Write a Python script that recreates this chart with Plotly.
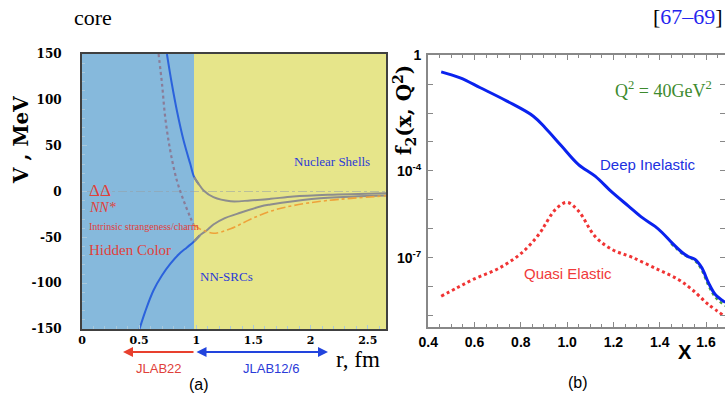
import plotly.graph_objects as go

W, H = 725, 393
def px(x): return x / W
def py(y): return 1 - y / H

SERIF = "Liberation Serif"
SANS = "Liberation Sans"

# ---------------- Panel (a) data : V(r) in MeV ----------------
upper_blue_r = [0.743, 0.786, 0.83, 0.889, 0.947, 0.982, 1.02]
upper_blue_v = [150, 117.5, 88.4, 55.6, 30.2, 15.6, 8.4]
upper_gray_r = [0.965, 0.982, 1.02, 1.064, 1.15, 1.30, 1.47, 1.65, 1.85, 2.15, 2.66]
upper_gray_v = [22.5, 15.6, 8.4, 1.1, -6.2, -10.6, -9.8, -8.0, -5.5, -3.6, -1.8]

lower_blue_r = [0.503, 0.553, 0.625, 0.699, 0.772, 0.845, 0.918, 0.98, 1.03]
lower_blue_v = [-150, -131, -108, -91.6, -79, -68.7, -61, -54.5, -48]
lower_gray_r = [0.98, 1.03, 1.09, 1.15, 1.25, 1.357, 1.56, 1.65, 1.85, 2.15, 2.66]
lower_gray_v = [-54.5, -48, -42.5, -36, -29, -24.4, -16.4, -14.2, -10.6, -6.9, -4.4]

dotted_r = [0.67, 0.70, 0.728, 0.772, 0.83, 0.889, 0.947, 0.976]
dotted_v = [150, 117.5, 81, 44.7, 12, -9.8, -28, -36]

orange_r = [0.976, 1.02, 1.064, 1.15, 1.30, 1.47, 1.65, 1.85, 2.15, 2.66]
orange_v = [-36, -40, -42.5, -45.5, -40.7, -30.5, -21.5, -15.3, -9.8, -4.7]

a_xticks = [0, 0.5, 1, 1.5, 2, 2.5]
a_xticktext = ["0", "0.5", "1", "1.5", "2", "2.5"]
a_yticks = [150, 100, 50, 0, -50, -100, -150]
a_yticktext = ["150", "100", "50", "0", "-50", "-100", "-150"]
core_edge_r = 0.98

# ---------------- Panel (b) data : f2(x, Q^2) ----------------
dis_x = [0.456, 0.538, 0.625, 0.74, 0.854, 0.905, 0.975, 1.048, 1.121, 1.195, 1.265,
         1.323, 1.38, 1.41, 1.453, 1.497, 1.523, 1.553, 1.582, 1.611, 1.64, 1.683]
dis_f2 = [0.263, 0.162, 0.0741, 0.0257, 7.76e-3, 3.09e-3, 7.41e-4, 1.70e-4, 6.61e-5, 1.82e-5,
          6.17e-6, 2.51e-6, 1.23e-6, 7.59e-7, 3.31e-7, 1.55e-7, 1.12e-7, 8.91e-8, 4.57e-8,
          1.38e-8, 5.50e-9, 2.95e-9]

qe_x = [0.456, 0.524, 0.594, 0.711, 0.81, 0.884, 0.905, 0.949, 0.999, 1.049, 1.121, 1.195,
        1.281, 1.393, 1.48, 1.54, 1.61, 1.683]
qe_f2 = [4.79e-9, 9.33e-9, 1.82e-8, 4.68e-8, 1.66e-7, 7.59e-7, 1.41e-6, 4.68e-6, 8.32e-6,
         4.17e-6, 5.50e-7, 1.95e-7, 1.05e-7, 3.98e-8, 1.82e-8, 8.13e-9, 2.51e-9, 9.55e-10]

tot_x = [1.45, 1.50, 1.553, 1.582, 1.611, 1.64, 1.683]
tot_f2 = [3.16e-7, 1.38e-7, 7.94e-8, 3.80e-8, 1.12e-8, 4.47e-9, 2.24e-9]

b_ytickvals = [1, 1e-1, 1e-2, 1e-3, 1e-4, 1e-5, 1e-6, 1e-7, 1e-8, 1e-9]
b_yticktext = ["1", "", "", "", "10<sup>-4</sup>", "", "", "10<sup>-7</sup>", "", ""]
b_xticks = [0.4, 0.6, 0.8, 1.0, 1.2, 1.4, 1.6]
b_xticktext = ["0.4", "0.6", "0.8", "1.0", "1.2", "1.4", "1.6"]

BLUE_A = "#2b62dc"
GRAY_A = "#8d8d8d"
RED_T = "#e0403a"
BLUE_T = "#2a3ad8"

fig = go.Figure()

# panel (a) curves
fig.add_trace(go.Scatter(x=upper_blue_r, y=upper_blue_v, mode="lines", line=dict(color=BLUE_A, width=2, shape="spline"), xaxis="x", yaxis="y"))
fig.add_trace(go.Scatter(x=lower_blue_r, y=lower_blue_v, mode="lines", line=dict(color=BLUE_A, width=2, shape="spline"), xaxis="x", yaxis="y"))
fig.add_trace(go.Scatter(x=upper_gray_r[1:], y=upper_gray_v[1:], mode="lines", line=dict(color=GRAY_A, width=2, shape="spline"), xaxis="x", yaxis="y"))
fig.add_trace(go.Scatter(x=lower_gray_r, y=lower_gray_v, mode="lines", line=dict(color=GRAY_A, width=2, shape="spline"), xaxis="x", yaxis="y"))
fig.add_trace(go.Scatter(x=dotted_r, y=dotted_v, mode="lines", line=dict(color="#8a7c98", width=2.2, dash="dot", shape="spline"), xaxis="x", yaxis="y"))
fig.add_trace(go.Scatter(x=orange_r, y=orange_v, mode="lines", line=dict(color="#eea23a", width=1.6, dash="dashdot", shape="spline"), xaxis="x", yaxis="y"))

# panel (b) curves
fig.add_trace(go.Scatter(x=tot_x, y=tot_f2, mode="lines", line=dict(color="#4aa040", width=2.5, dash="dot", shape="spline"), xaxis="x2", yaxis="y2"))
fig.add_trace(go.Scatter(x=dis_x, y=dis_f2, mode="lines", line=dict(color="#0a22ee", width=3, shape="spline"), xaxis="x2", yaxis="y2"))
fig.add_trace(go.Scatter(x=qe_x, y=qe_f2, mode="lines", line=dict(color="#f03434", width=3, dash="dot", shape="spline"), xaxis="x2", yaxis="y2"))

shapes = [
    dict(type="rect", xref="x", yref="y", x0=0, x1=core_edge_r, y0=-150, y1=150, fillcolor="#86b9dc", line=dict(width=0), layer="below"),
    dict(type="rect", xref="x", yref="y", x0=core_edge_r, x1=2.66, y0=-150, y1=150, fillcolor="#e6e58a", line=dict(width=0), layer="below"),
    dict(type="line", xref="x", yref="y", x0=0, x1=2.66, y0=0, y1=0, line=dict(color="rgba(150,160,165,0.55)", width=1, dash="dashdot"), layer="below"),
]

ann = []
def text(x, y, s, size, color="black", family=SERIF, xanchor="center", angle=0):
    ann.append(dict(x=px(x), y=py(y), xref="paper", yref="paper", text=s, showarrow=False,
                    font=dict(size=size, color=color, family=family), xanchor=xanchor, yanchor="middle",
                    textangle=angle))

# page text
text(72, 17, "core", 22, xanchor="left")
text(725, 16, "[<span style='color:#2424ee'>67–69</span>]", 22, xanchor="right")

# panel (a) labels
text(21, 140, "<b>V , MeV</b>", 20, family="DejaVu Serif", angle=-90)
text(87, 190, "ΔΔ", 17, RED_T, xanchor="left")
text(87, 208, "<i>NN*</i>", 14, RED_T, xanchor="left")
text(87, 226, "Intrinsic strangeness/charm", 10, RED_T, xanchor="left")
text(87, 250, "Hidden Color", 15, RED_T, xanchor="left")
text(292, 161, "Nuclear Shells", 13, BLUE_T, xanchor="left")
text(198, 276, "NN-SRCs", 13, BLUE_T, xanchor="left")
text(334, 359, "r, fm", 23, xanchor="left")
text(159, 368, "JLAB22", 13, RED_T, family=SANS)
text(271, 368, "JLAB12/6", 13, BLUE_T, family=SANS)
text(199, 384, "(a)", 16, family=SANS)

# panel (b) labels
text(405, 110, "<b>f<sub>2</sub>(x, Q<sup>2</sup>)</b>", 20, family="DejaVu Serif", angle=-90)
text(663, 90, "Q<sup>2</sup> = 40GeV<sup>2</sup>", 18, "#3d8a2e")
text(648, 165, "Deep Inelastic", 15, "#2030e0", family=SANS)
text(568, 273, "Quasi Elastic", 15, "#f03a3a", family=SANS)
text(685, 352, "<b>X</b>", 20, family=SANS)
text(578, 382, "(b)", 16, family=SANS)

# arrows under panel (a)
ann.append(dict(x=px(123), y=py(352), xref="paper", yref="paper", ax=72, ay=0, text="",
                showarrow=True, arrowhead=2, arrowsize=1, arrowwidth=2, arrowcolor="#e8402e"))
ann.append(dict(x=px(328), y=py(352), xref="paper", yref="paper", ax=-133, ay=0, text="",
                showarrow=True, arrowhead=2, arrowsize=1, arrowwidth=2, arrowcolor="#2244dd",
                arrowside="end+start"))

fig.update_layout(
    width=W, height=H, margin=dict(l=0, r=0, t=0, b=0, autoexpand=False),
    paper_bgcolor="white", plot_bgcolor="white", showlegend=False,
    shapes=shapes, annotations=ann,
    xaxis=dict(domain=[px(82), px(386)], range=[0, 2.66], showgrid=False, zeroline=False,
               tickvals=a_xticks, ticktext=a_xticktext, ticks="inside", ticklen=4, tickcolor="#a8c8dc",
               minor=dict(dtick=0.1, tick0=0, ticks="inside", ticklen=3, tickcolor="#a8c8dc"),
               showline=True, linecolor="#404040", linewidth=2, mirror=True,
               tickfont=dict(family="DejaVu Serif", size=11, color="black", weight="bold"),
               ticklabelstandoff=0, anchor="y", automargin=False),
    yaxis=dict(domain=[py(329), py(54)], range=[-150, 150], showgrid=False, zeroline=False,
               tickvals=a_yticks, ticktext=a_yticktext, ticks="inside", ticklen=5, tickcolor="#a8c8dc",
               minor=dict(dtick=10, tick0=0, ticks="inside", ticklen=3, tickcolor="#a8c8dc"),
               showline=True, linecolor="#404040", linewidth=2, mirror=True,
               tickfont=dict(family="DejaVu Serif", size=12, color="black", weight="bold"),
               ticklabelstandoff=16, anchor="x", automargin=False),
    xaxis2=dict(domain=[px(428), 1], range=[0.399, 1.682], showgrid=False, zeroline=False,
                tickvals=b_xticks, ticktext=b_xticktext, ticks="inside", ticklen=5, tickcolor="#888",
                minor=dict(dtick=0.05, tick0=0.4, ticks="inside", ticklen=3, tickcolor="#888"),
                showline=True, linecolor="#888", linewidth=2, mirror="ticks",
                tickfont=dict(family=SANS, size=14, color="black", weight="bold"),
                ticklabelstandoff=1, anchor="y2", automargin=False),
    yaxis2=dict(domain=[py(327), py(55)], type="log", range=[-9.38, 0], showgrid=False, zeroline=False,
                tickvals=b_ytickvals, ticktext=b_yticktext, ticks="inside", ticklen=5, tickcolor="#888",
                showline=True, linecolor="#888", linewidth=2, mirror="ticks",
                tickfont=dict(family=SANS, size=14, color="black", weight="bold"),
                ticklabelstandoff=2, anchor="x2", automargin=False),
)

fig.write_html("out.html")
